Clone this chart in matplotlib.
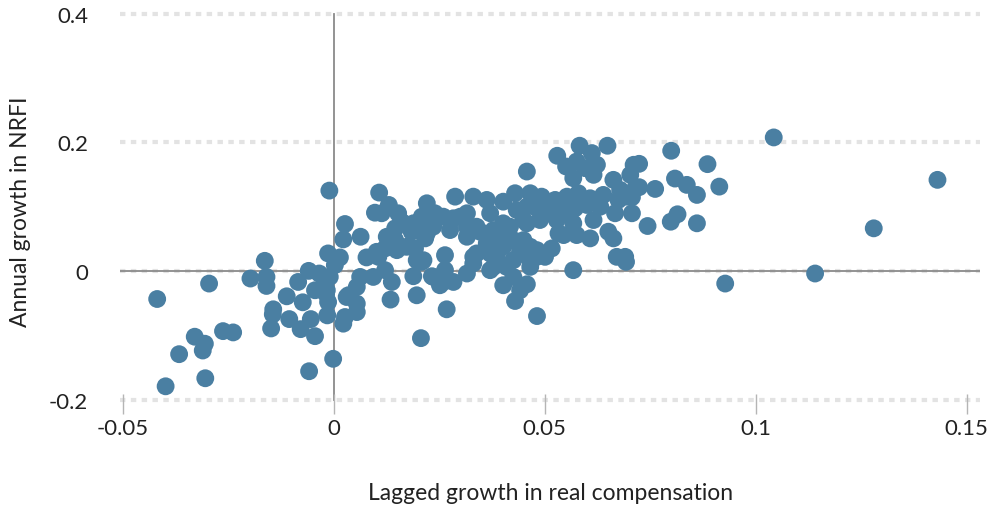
import matplotlib
matplotlib.use("Agg")
import matplotlib.pyplot as plt

# lagged growth in real compensation (x) and annual growth in NRFI (y)
comp_growth = [
    -0.0418, -0.0295, -0.0163, -0.0197, -0.0159, -0.0159, -0.0398, -0.0366, -0.0329, -0.0305,
    -0.0310, -0.0304, -0.0262, -0.0238, -0.0143, -0.0144, -0.0148, -0.0111, -0.0105, -0.0078,
    -0.0073, -0.0054, -0.0044, -0.0058, -0.0084, -0.0059, -0.0034, -0.0044, -0.0018, -0.0013,
    -0.0015, -0.0013, -0.0001, -0.0009,
    -0.0010, 0.0108, 0.0098, 0.0114, 0.0027, 0.0023, 0.0064, 0.0015, 0.0003, 0.0078,
    0.0102, 0.0126, 0.0153, 0.0165, 0.0146, 0.0189, 0.0221, 0.0209, 0.0236, 0.0197,
    0.0173, 0.0150, 0.0122, 0.0138, 0.0189, 0.0197, 0.0094, 0.0063, 0.0035, 0.0055,
    0.0233, -0.0024, -0.0016,
    0.0458, 0.0288, 0.0331, 0.0363, 0.0402, 0.0430, 0.0466, 0.0240, 0.0213, 0.0284,
    0.0316, 0.0371, 0.0434, 0.0402, 0.0458, 0.0221, 0.0276, 0.0316, 0.0347, 0.0395,
    0.0426, 0.0466, 0.0482, 0.0264, 0.0331, 0.0371, 0.0402, 0.0442, 0.0213, 0.0236,
    0.0264, 0.0284, 0.0316, 0.0402, 0.0426, 0.0442, 0.0426, 0.0379, 0.0252,
    0.0583, 0.0649, 0.0530, 0.0612, 0.0576, 0.0551, 0.0624, 0.0596, 0.0568, 0.0616,
    0.0663, 0.0711, 0.0703, 0.0493, 0.0525, 0.0553, 0.0580, 0.0608, 0.0639, 0.0679,
    0.0695, 0.0715, 0.0458, 0.0482, 0.0513, 0.0545, 0.0572, 0.0600, 0.0632, 0.0667,
    0.0707, 0.0450, 0.0489, 0.0529, 0.0568, 0.0616, 0.0545, 0.0576, 0.0608, 0.0651,
    0.0663, 0.0458, 0.0482, 0.0517, 0.0466, 0.0501, 0.0671, 0.0691, 0.0568,
    0.0800, 0.0886, 0.0724, 0.0809, 0.0837, 0.0861, 0.0914, 0.0724, 0.0762, 0.0683,
    0.0707, 0.0744, 0.0799, 0.0815, 0.0861, 0.0693,
    0.1043, 0.1431, 0.1280, 0.1141, 0.0928,
    0.0135, 0.0268, 0.0207, 0.0482, 0.0430, 0.0260, 0.0458, 0.0023, 0.0055, 0.0031,
    0.0055, 0.0027,
    0.0161, 0.0185, 0.0146, 0.0122, 0.0193, 0.0217, 0.0209, 0.0106, 0.0131,
    0.0260, 0.0300, 0.0339, 0.0379, 0.0418, 0.0316, 0.0363, 0.0402, 0.0450, 0.0339,
    0.0387, 0.0442, 0.0466, 0.0371, 0.0410, 0.0331,
    0.0533, 0.0509, 0.0556, 0.0675,
]
nrfi_growth = [
    -0.0432, -0.0192, 0.0161, -0.0114, -0.0089, -0.0229, -0.1788, -0.1289, -0.1018, -0.1127,
    -0.1232, -0.1663, -0.0931, -0.0951, -0.0592, -0.0670, -0.0889, -0.0390, -0.0744, -0.0900,
    -0.0483, -0.0744, -0.1009, -0.1554, -0.0167, 0.0005, -0.0036, -0.0296, -0.0348, -0.0479,
    -0.0686, 0.0276, -0.1361, -0.0089,
    0.1252, 0.1221, 0.0909, 0.0900, 0.0733, 0.0494, 0.0535, 0.0214, 0.0094, 0.0214,
    0.0301, 0.0535, 0.0900, 0.0744, 0.0666, 0.0744, 0.1055, 0.0847, 0.0691, 0.0171,
    0.0379, 0.0327, 0.0016, -0.0167, -0.0078, -0.0374, -0.0089, -0.0089, -0.0374, -0.0245,
    -0.0078, -0.0089, -0.0296,
    0.1548, 0.1158, 0.1158, 0.1107, 0.1080, 0.1211, 0.1211, 0.0900, 0.0795, 0.0822,
    0.0900, 0.0900, 0.0951, 0.0744, 0.0744, 0.0588, 0.0639, 0.0691, 0.0613, 0.0535,
    0.0483, 0.0379, 0.0223, 0.0249, 0.0223, 0.0276, 0.0379, 0.0276, 0.0171, -0.0089,
    0.0016, -0.0167, -0.0036, -0.0218, -0.0089, -0.0296, 0.0171, 0.0067, -0.0218,
    0.1949, 0.1949, 0.1793, 0.1835, 0.1704, 0.1626, 0.1653, 0.1601, 0.1445, 0.1497,
    0.1419, 0.1653, 0.1497, 0.1158, 0.1107, 0.1158, 0.1211, 0.1133, 0.1185, 0.1263,
    0.1158, 0.1289, 0.1002, 0.0977, 0.0951, 0.1002, 0.0977, 0.1029, 0.1002, 0.0900,
    0.0900, 0.0795, 0.0795, 0.0795, 0.0744, 0.0795, 0.0561, 0.0561, 0.0510, 0.0613,
    0.0510, 0.0327, 0.0327, 0.0354, 0.0171, 0.0223, 0.0223, 0.0223, 0.0016,
    0.1871, 0.1663, 0.1668, 0.1439, 0.1341, 0.1185, 0.1314, 0.1305, 0.1278, 0.1227,
    0.1149, 0.0702, 0.0769, 0.0884, 0.0744, 0.0145,
    0.2078, 0.1419, 0.0666, -0.0036, -0.0192,
    -0.0441, -0.0592, -0.1040, -0.0697, -0.0463, -0.0167, -0.0203, -0.0815, -0.0635, -0.0401,
    -0.0504, -0.0712,
    0.0769, 0.0613, 0.0483, 0.0354, 0.0354, 0.0510, 0.0145, 0.0223, 0.1029,
    0.0847, 0.0847, 0.0691, 0.0639, 0.0691, 0.0535, 0.0432, 0.0483, 0.0483, 0.0276,
    0.0223, 0.0327, 0.0067, 0.0016, 0.0067, 0.0120,
    0.0588, 0.0900, 0.0900, 0.1107,
]

x_ticks = [-0.05, 0, 0.05, 0.1, 0.15]
x_ticklabels = ["-0.05", "0", "0.05", "0.1", "0.15"]
y_ticks = [-0.2, 0, 0.2, 0.4]
y_ticklabels = ["-0.2", "0", "0.2", "0.4"]

plt.rcParams["font.family"] = ["Lato", "DejaVu Sans"]
TXT = "#222222"

fig = plt.figure(figsize=(9.88, 5.10), dpi=100)
ax = fig.add_axes([0.1215, 0.205, 0.8705, 0.775])

for yv in y_ticks:
    ax.axhline(yv, color="#e3e3e3", lw=3, ls=(0, (1.3, 1.3)), zorder=0)
ax.axhline(0, color="#8a8a8a", lw=1.3, zorder=1)
ax.plot([0, 0], [-0.2, 0.4], color="#8a8a8a", lw=1.3, zorder=1)

ax.scatter(comp_growth, nrfi_growth, s=165, color="#4a7fa2",
           edgecolors="none", zorder=3)

ax.set_xlim(-0.0506, 0.1532)
ax.set_ylim(-0.207, 0.407)
ax.set_xticks(x_ticks, x_ticklabels)
ax.set_yticks(y_ticks, y_ticklabels)
for s in ax.spines.values():
    s.set_visible(False)
ax.tick_params(axis="x", direction="inout", length=14, width=1, color="#b5b5b5",
               labelsize=16, pad=3, labelcolor=TXT)
ax.tick_params(axis="y", length=0, labelsize=16, pad=23, labelcolor=TXT)

ax.set_xlabel("Lagged growth in real compensation", fontsize=16.5, color=TXT,
              va="center")
ax.xaxis.set_label_coords(0.5, -0.222)
ax.set_ylabel("Annual growth in NRFI", fontsize=16.5, color=TXT, va="center")
ax.yaxis.set_label_coords(-0.116, 0.49)

fig.savefig("out.png", dpi=100)
